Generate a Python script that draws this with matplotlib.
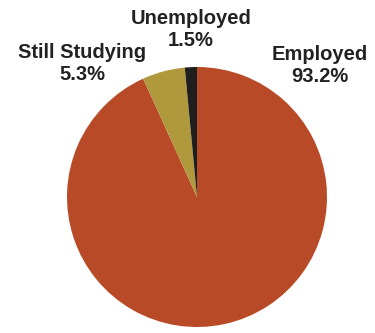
import matplotlib
matplotlib.use("Agg")
from matplotlib import pyplot as plt

labels = ["Employed", "Still Studying", "Unemployed"]
shares = [93.2, 5.3, 1.5]
colors = ["#B84A27", "#B0983D", "#1E1E1E"]

fig = plt.figure(figsize=(3.75, 3.33), dpi=100)
# pie centred at (197,197) px, radius 130 px
ax = fig.add_axes([67/375, 6/333, 260/375, 260/333])
ax.pie(shares, colors=colors, startangle=90, counterclock=False,
       wedgeprops=dict(linewidth=0))
ax.set_xlim(-1, 1)
ax.set_ylim(-1, 1)
ax.set_aspect("equal")
ax.axis("off")

# label positions in pixels (x, y from top)
spots = [(320, 66), (82, 64), (191, 30)]
for name, val, (px, py) in zip(labels, shares, spots):
    fig.text(px/375, 1 - py/333, f"{name}\n{val}%", ha="center", va="center",
             fontsize=14.5, color="#222222", family="Liberation Sans",
             weight="bold", linespacing=1.2)

fig.savefig("out.png", dpi=100)
